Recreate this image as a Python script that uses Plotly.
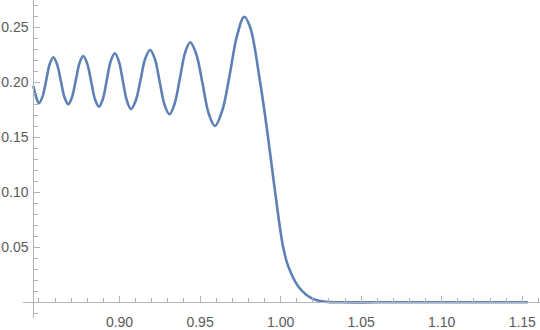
import numpy as np
import plotly.graph_objects as go

# Curve samples
x_vals = [0.8465, 0.8482, 0.8500, 0.8522, 0.8545, 0.8567, 0.8589,
          0.8612, 0.8636, 0.8659, 0.8682, 0.8705, 0.8729, 0.8752, 0.8775,
          0.8799, 0.8824, 0.8848, 0.8872, 0.8897, 0.8921, 0.8946, 0.8971,
          0.8996, 0.9021, 0.9046, 0.9071, 0.9101, 0.9131, 0.9160, 0.9190,
          0.9220, 0.9250, 0.9280, 0.9310, 0.9342, 0.9375, 0.9407, 0.9439,
          0.9477, 0.9516, 0.9554, 0.9592, 0.9638, 0.9683, 0.9729, 0.9774,
          0.9811, 0.9873, 0.9922, 0.9966, 1.0016, 1.0048, 1.0111, 1.0194,
          1.0276, 1.0369, 1.0600, 1.0900, 1.1200, 1.1535]
y_vals = [0.1969, 0.1870, 0.1809, 0.1870, 0.2018, 0.2166, 0.2227,
          0.2165, 0.2013, 0.1862, 0.1800, 0.1864, 0.2020, 0.2175, 0.2239,
          0.2172, 0.2008, 0.1845, 0.1778, 0.1849, 0.2021, 0.2193, 0.2264,
          0.2190, 0.2010, 0.1831, 0.1757, 0.1835, 0.2025, 0.2216, 0.2294,
          0.2209, 0.2000, 0.1794, 0.1709, 0.1805, 0.2036, 0.2268, 0.2364,
          0.2253, 0.1984, 0.1714, 0.1603, 0.1745, 0.2060, 0.2420, 0.2596,
          0.2500, 0.2000, 0.1500, 0.1000, 0.0500, 0.0324, 0.0142, 0.0036,
          0.0005, 0.0000, 0.0000, 0.0000, 0.0000, 0.0000]

x_tick_vals = [0.85, 0.90, 0.95, 1.00, 1.05, 1.10, 1.15]
x_tick_text = ["", "0.90", "0.95", "1.00", "1.05", "1.10", "1.15"]
y_tick_vals = [0.05, 0.10, 0.15, 0.20, 0.25]
y_tick_text = ["0.05", "0.10", "0.15", "0.20", "0.25"]

W, H = 540, 330
ML, MB = 23, 12
x_range = [0.8401, 1.161]
y_range = [-0.01427, 0.2748]
x_origin = 0.8465  # where the vertical axis sits
y_origin = 0.0     # where the horizontal axis sits

axis_color = "#b4b4b4"
label_color = "#5a5a5a"
font = dict(family="Liberation Sans, Arial, sans-serif", size=14, color=label_color)

x_minor = [round(v, 2) for v in np.arange(0.85, 1.161, 0.01)]
y_minor = [round(v, 2) for v in np.arange(-0.01, 0.275, 0.01)]

fig = go.Figure()
fig.add_trace(go.Scatter(
    x=x_vals, y=y_vals, mode="lines",
    line=dict(color="#5E81B5", width=2.6, shape="spline", smoothing=1.0),
    hoverinfo="skip", showlegend=False,
))

xpos = (y_origin - y_range[0]) / (y_range[1] - y_range[0])
ypos = (x_origin - x_range[0]) / (x_range[1] - x_range[0])

fig.update_layout(
    width=W, height=H,
    margin=dict(l=ML, r=0, t=0, b=MB, pad=0, autoexpand=False),
    paper_bgcolor="white", plot_bgcolor="white",
    font=font,
    xaxis=dict(
        range=x_range, anchor="free", position=xpos, automargin=False,
        showgrid=False, zeroline=False,
        showline=True, linecolor=axis_color, linewidth=1,
        tickmode="array", tickvals=x_tick_vals, ticktext=x_tick_text,
        ticks="inside", ticklen=6, tickwidth=1, tickcolor=axis_color,
        ticklabelstandoff=7,
        minor=dict(tickmode="array", tickvals=x_minor, ticks="inside",
                   ticklen=4, tickwidth=1, tickcolor=axis_color, showgrid=False),
        tickfont=font,
    ),
    yaxis=dict(
        range=y_range, anchor="free", position=ypos, automargin=False,
        showgrid=False, zeroline=False,
        showline=True, linecolor=axis_color, linewidth=1,
        tickmode="array", tickvals=y_tick_vals, ticktext=y_tick_text,
        ticks="inside", ticklen=6, tickwidth=1, tickcolor=axis_color,
        ticklabelstandoff=2,
        minor=dict(tickmode="array", tickvals=y_minor, ticks="inside",
                   ticklen=4, tickwidth=1, tickcolor=axis_color, showgrid=False),
        tickfont=font,
    ),
)

fig.write_html("out.html",
               config={"displayModeBar": False, "staticPlot": True},
               post_script="document.body.style.margin='0';document.body.style.overflow='hidden';")
